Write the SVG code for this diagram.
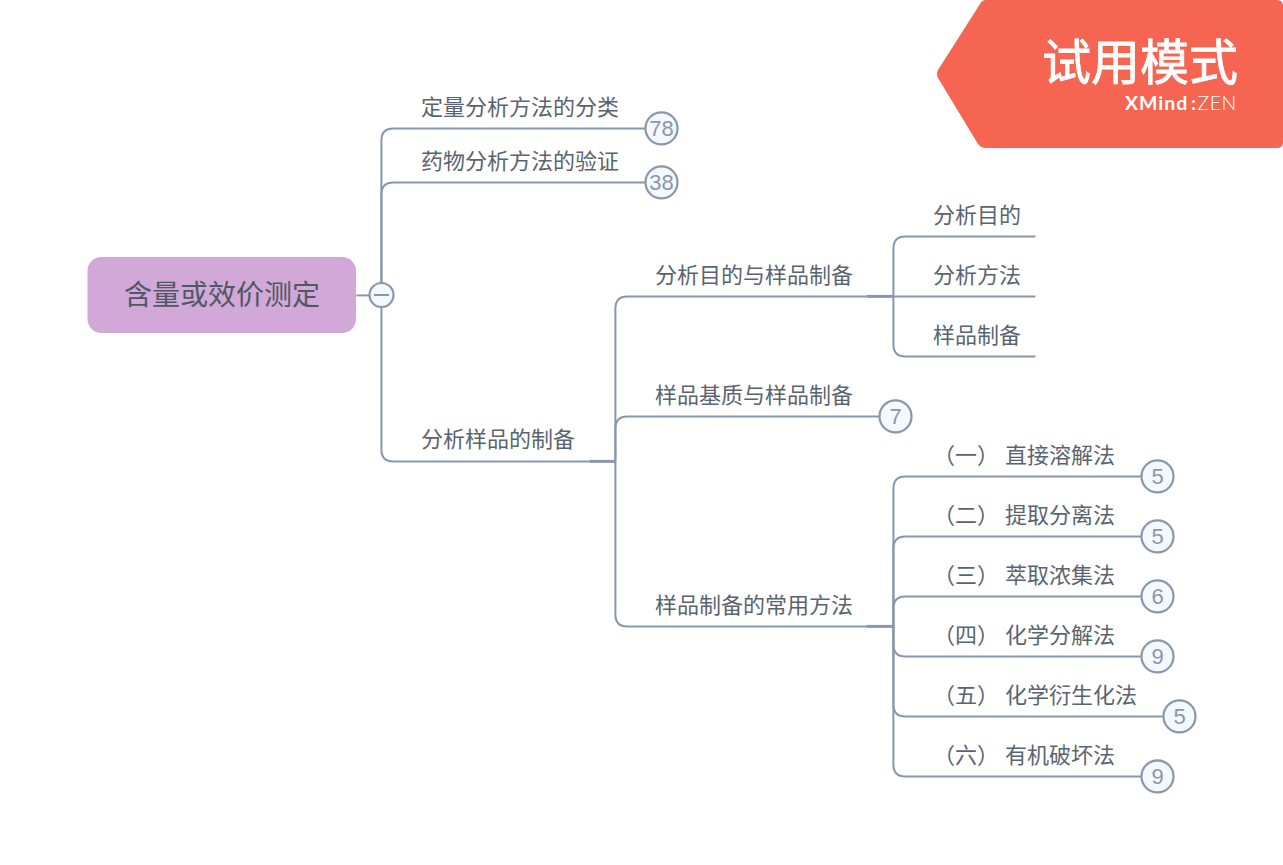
<svg xmlns="http://www.w3.org/2000/svg" width="1283" height="865" viewBox="0 0 1283 865">
<style>
text{font-family:"Noto Sans CJK SC","Liberation Sans",sans-serif;}
.t{font-size:22px;fill:#5a6470;}
.root{font-size:28px;fill:#4f5866;}
.c{fill:none;stroke:#8a97ab;stroke-width:2;}
.s{fill:none;stroke:#8a97ab;stroke-width:3;}
.b{fill:#f4f9fe;stroke:#8a97ab;stroke-width:2.200;}
.n{font-family:"Liberation Sans",sans-serif;font-size:22px;fill:#8a97ab;text-anchor:middle;}
</style>
<g id="connectors" transform="translate(0.400 0.400)">
<path class="c" d="M356 295H381"/>
<path class="c" d="M381 295V140Q381 128 393 128H646"/>
<path class="c" d="M381 295V194Q381 182 393 182H646"/>
<path class="c" d="M381 295V449Q381 461 393 461H589"/>
<path class="s" d="M589 461H615"/>
<path class="c" d="M615 461V308Q615 296 627 296H866"/>
<path class="c" d="M615 461V428Q615 416 627 416H880"/>
<path class="c" d="M615 461V614Q615 626 627 626H866"/>
<path class="s" d="M866 296H893"/>
<path class="c" d="M893 296H1035"/>
<path class="c" d="M893 296V248Q893 236 905 236H1035"/>
<path class="c" d="M893 296V344Q893 356 905 356H1035"/>
<path class="s" d="M866 626H893"/>
<path class="c" d="M893 626V488Q893 476 905 476H1142"/>
<path class="c" d="M893 626V548Q893 536 905 536H1142"/>
<path class="c" d="M893 626V608Q893 596 905 596H1142"/>
<path class="c" d="M893 626V644Q893 656 905 656H1142"/>
<path class="c" d="M893 626V704Q893 716 905 716H1164"/>
<path class="c" d="M893 626V764Q893 776 905 776H1142"/>
</g>
<g id="root">
<rect x="87.500" y="257" width="268.500" height="76" rx="14" fill="#d1a8d7"/>
<text class="root" x="124" y="305">含量或效价测定</text>
</g>
<g id="collapse">
<circle class="b" cx="381.500" cy="295" r="12"/>
<path d="M374 295H389" stroke="#8a97ab" stroke-width="2" fill="none"/>
</g>
<g id="n1"><text class="t" x="421" y="115">定量分析方法的分类</text><circle class="b" cx="661.500" cy="128.400" r="16"/><text class="n" x="661.500" y="136">78</text></g>
<g id="n2"><text class="t" x="421" y="169">药物分析方法的验证</text><circle class="b" cx="661.500" cy="182.400" r="16"/><text class="n" x="661.500" y="190">38</text></g>
<g id="n3"><text class="t" x="421" y="447">分析样品的制备</text></g>
<g id="n4"><text class="t" x="655" y="283">分析目的与样品制备</text></g>
<g id="n5"><text class="t" x="655" y="403">样品基质与样品制备</text><circle class="b" cx="895.500" cy="416.400" r="16"/><text class="n" x="895.500" y="424">7</text></g>
<g id="n6"><text class="t" x="655" y="613">样品制备的常用方法</text></g>
<g id="n7"><text class="t" x="933" y="223">分析目的</text></g>
<g id="n8"><text class="t" x="933" y="283">分析方法</text></g>
<g id="n9"><text class="t" x="933" y="343">样品制备</text></g>
<g id="n10"><text class="t" x="933" y="463">（一）</text><text class="t" x="1005" y="463">直接溶解法</text><circle class="b" cx="1157.500" cy="476.400" r="16"/><text class="n" x="1157.500" y="484">5</text></g>
<g id="n11"><text class="t" x="933" y="523">（二）</text><text class="t" x="1005" y="523">提取分离法</text><circle class="b" cx="1157.500" cy="536.400" r="16"/><text class="n" x="1157.500" y="544">5</text></g>
<g id="n12"><text class="t" x="933" y="583">（三）</text><text class="t" x="1005" y="583">萃取浓集法</text><circle class="b" cx="1157.500" cy="596.400" r="16"/><text class="n" x="1157.500" y="604">6</text></g>
<g id="n13"><text class="t" x="933" y="643">（四）</text><text class="t" x="1005" y="643">化学分解法</text><circle class="b" cx="1157.500" cy="656.400" r="16"/><text class="n" x="1157.500" y="664">9</text></g>
<g id="n14"><text class="t" x="933" y="703">（五）</text><text class="t" x="1005" y="703">化学衍生化法</text><circle class="b" cx="1179.500" cy="716.400" r="16"/><text class="n" x="1179.500" y="724">5</text></g>
<g id="n15"><text class="t" x="933" y="763">（六）</text><text class="t" x="1005" y="763">有机破坏法</text><circle class="b" cx="1157.500" cy="776.400" r="16"/><text class="n" x="1157.500" y="784">9</text></g>
<g id="watermark">
<path d="M980 4Q982 0 986 0H1277Q1283 0 1283 6V142Q1283 148 1277 148H986Q981 148 978 144L938 78Q936 74 938 70Z" fill="#f66552"/>
<text x="1238" y="80" font-size="49" fill="#fff" stroke="#fff" stroke-width="0.800" text-anchor="end">试用模式</text>
<text y="110" font-size="19.500" fill="#fff" style="font-family:Lato,'Liberation Sans',sans-serif"><tspan x="1125" font-weight="700" letter-spacing="1">XMind</tspan><tspan x="1191" font-weight="700">:</tspan><tspan x="1197.500" font-weight="300" letter-spacing="0.500">ZEN</tspan></text>
</g>
</svg>
